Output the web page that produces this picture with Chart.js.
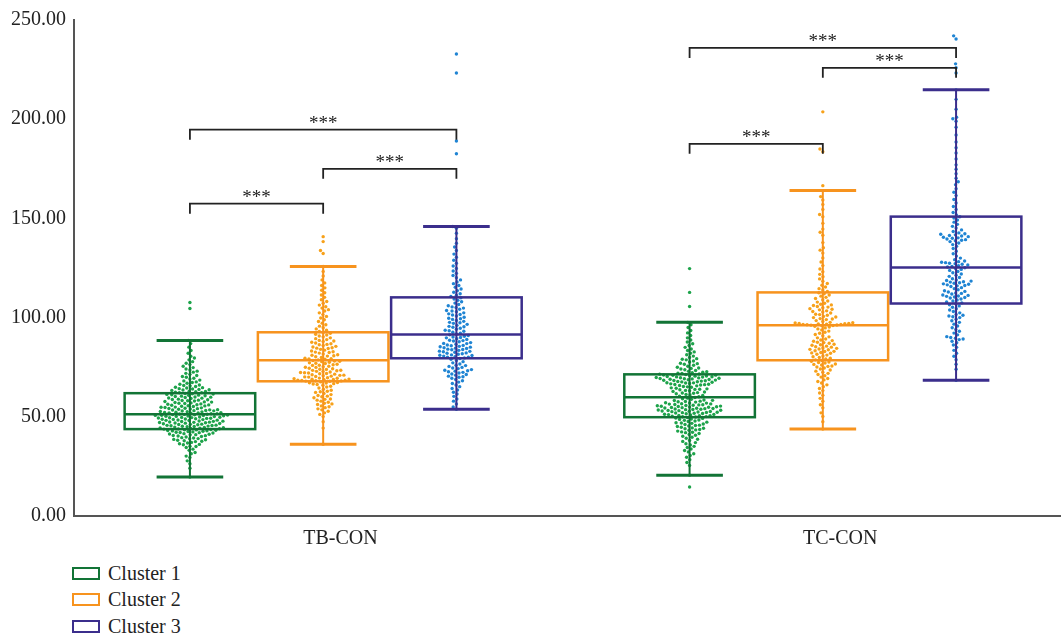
<!DOCTYPE html>
<html>
<head>
<meta charset="utf-8">
<script src="https://cdn.jsdelivr.net/npm/chart.js@4.4.1/dist/chart.umd.min.js"></script>
<style>
  body { margin: 0; background: #fff; font-family: "Liberation Serif", "Times New Roman", serif; }
  #wrap { position: absolute; left: 0; top: 0; width: 1063px; height: 555px; }
  #legend { position: absolute; left: 72px; top: 560px; }
  .item { height: 26.5px; display: flex; align-items: center; font-size: 20px; color: #222; }
  .sw { width: 24px; height: 9px; border: 2px solid; margin-right: 8px; background: #fff; }
</style>
</head>
<body>
<div id="wrap"><canvas id="chart"></canvas></div>
<div id="legend"></div>
<script>
const groups = ['TB-CON', 'TC-CON'];
const clusters = ['Cluster 1', 'Cluster 2', 'Cluster 3'];
const yTicks = [0, 50, 100, 150, 200, 250];

// box statistics, [group][cluster]
const whiskerLow  = [[19.6, 36.2, 53.8], [20.6, 43.8, 68.4]];
const q1          = [[43.8, 67.9, 79.5], [49.8, 78.5, 107.1]];
const median      = [[51.3, 78.5, 91.5], [59.9, 96.1, 125.3]];
const q3          = [[61.9, 92.6, 110.2], [71.4, 112.7, 150.9]];
const whiskerHigh = [[88.5, 125.8, 145.9], [97.6, 164.0, 214.8]];

// individual observations (swarm points), estimated
const tbCluster1 = [
  19.6, 24.1, 26.3, 27.8, 29.5, 30.2, 31.4, 32.0, 33.1, 33.7, 34.5, 35.0, 35.2, 35.9, 36.4, 36.8, 37.1, 37.5, 37.9, 38.2,
  38.6, 38.9, 39.3, 39.5, 39.8, 40.1, 40.3, 40.6, 40.9, 41.0, 41.3, 41.5, 41.8, 42.0, 42.2, 42.4, 42.7, 42.9, 43.0, 43.2,
  43.4, 43.6, 43.8, 43.9, 44.1, 44.3, 44.4, 44.6, 44.8, 45.0, 45.1, 45.3, 45.5, 45.6, 45.8, 46.0, 46.1, 46.3, 46.5, 46.6,
  46.8, 47.0, 47.1, 47.3, 47.4, 47.6, 47.8, 47.9, 48.1, 48.2, 48.4, 48.6, 48.7, 48.9, 49.0, 49.2, 49.3, 49.5, 49.6, 49.8,
  49.9, 50.1, 50.2, 50.4, 50.5, 50.6, 50.8, 50.9, 51.1, 51.2, 51.3, 51.5, 51.6, 51.8, 52.0, 52.1, 52.3, 52.5, 52.6, 52.9,
  53.0, 53.2, 53.5, 53.6, 53.9, 54.1, 54.2, 54.5, 54.7, 54.9, 55.2, 55.3, 55.6, 55.8, 56.0, 56.3, 56.5, 56.8, 57.0, 57.2,
  57.5, 57.7, 58.0, 58.2, 58.4, 58.7, 58.9, 59.2, 59.4, 59.7, 59.9, 60.2, 60.4, 60.6, 60.9, 61.1, 61.3, 61.6, 61.8, 62.1,
  62.4, 62.6, 62.9, 63.3, 63.5, 63.8, 64.2, 64.5, 64.9, 65.3, 65.6, 66.0, 66.4, 66.9, 67.3, 67.6, 68.1, 68.5, 69.0, 69.4,
  69.9, 70.3, 70.8, 71.4, 71.9, 72.5, 73.0, 73.6, 74.1, 74.8, 75.5, 76.3, 77.0, 77.8, 78.7, 79.6, 80.5, 82.0, 83.4, 85.1,
  86.9, 88.5, 104.6, 107.6,
  40.5, 41.2, 42.1, 42.6, 43.1, 43.5, 44.0, 44.5, 45.2, 45.7, 46.2, 46.9, 47.2, 47.7, 48.3, 48.8, 49.4, 49.7, 50.3, 50.7,
  51.0, 51.4, 51.9, 52.2, 52.7, 53.1, 53.4, 53.8, 54.3, 54.8, 55.5, 56.1, 56.7, 57.4, 58.1, 58.6, 59.5, 60.0, 60.8, 61.5,
  62.2, 62.8, 63.6, 64.0, 64.7, 65.8, 36.1, 37.7, 38.4, 39.0
];
const tbCluster2 = [
  36.2, 44.3, 47.5, 50.1, 51.2, 52.0, 52.8, 53.5, 54.0, 54.6, 55.1, 55.5, 56.2, 56.8, 57.3, 57.9, 58.4, 59.0, 59.6, 60.1,
  60.7, 61.2, 61.8, 62.3, 62.9, 63.4, 63.9, 64.5, 65.0, 65.4, 65.9, 66.3, 66.7, 67.0, 67.3, 67.6, 67.9, 68.1, 68.2, 68.4,
  68.5, 68.7, 68.9, 69.2, 69.4, 69.7, 70.0, 70.3, 70.5, 70.9, 71.2, 71.5, 71.8, 72.1, 72.3, 72.6, 72.9, 73.2, 73.5, 73.9,
  74.2, 74.5, 74.9, 75.2, 75.5, 75.9, 76.2, 76.5, 76.9, 77.2, 77.5, 77.8, 78.1, 78.4, 78.7, 79.0, 79.3, 79.5, 79.9, 80.3,
  80.6, 81.0, 81.3, 81.7, 82.1, 82.4, 82.8, 83.2, 83.6, 84.0, 84.4, 84.8, 85.2, 85.5, 85.9, 86.3, 86.8, 87.2, 87.6, 88.0,
  88.5, 88.9, 89.4, 89.8, 90.3, 90.7, 91.2, 91.6, 92.1, 92.5, 93.0, 93.6, 94.3, 94.9, 95.7, 96.4, 97.2, 98.0, 98.9, 99.8,
  100.6, 101.5, 102.4, 103.3, 104.0, 104.8, 105.5, 106.3, 107.2, 108.1, 109.0, 110.2, 111.4, 112.5, 113.8, 115.0, 116.2, 117.5, 119.0, 121.0,
  123.2, 125.8, 132.3, 133.8, 138.3, 140.8,
  66.5, 67.2, 68.0, 68.3, 68.8, 69.0, 69.5, 70.1, 70.7, 71.0, 71.7, 72.2, 72.8, 73.4, 74.0, 75.0, 76.0, 77.0, 78.0, 79.2,
  80.8, 82.6, 84.6, 86.5, 88.2, 56.5, 58.8, 60.4, 62.6
];
const tbCluster3 = [
  53.8, 55.0, 56.5, 57.9, 59.0, 60.3, 61.5, 62.4, 63.5, 64.3, 65.2, 66.0, 66.8, 67.5, 68.2, 68.8, 69.4, 69.9, 70.5, 71.0,
  71.6, 72.1, 72.7, 73.2, 73.8, 74.3, 74.9, 75.4, 76.0, 76.6, 77.2, 77.8, 78.4, 79.0, 79.4, 79.7, 80.0, 80.3, 80.6, 80.9,
  81.2, 81.5, 81.8, 82.2, 82.5, 82.8, 83.1, 83.5, 83.8, 84.1, 84.4, 84.8, 85.1, 85.5, 85.8, 86.2, 86.6, 87.0, 87.4, 87.8,
  88.2, 88.6, 89.0, 89.4, 89.8, 90.2, 90.6, 91.0, 91.3, 91.7, 92.1, 92.6, 93.1, 93.6, 94.1, 94.6, 95.1, 95.6, 96.1, 96.6,
  97.1, 97.6, 98.1, 98.6, 99.1, 99.7, 100.2, 100.8, 101.3, 101.9, 102.4, 103.0, 103.6, 104.2, 104.8, 105.4, 106.0, 106.6, 107.3, 108.0,
  108.7, 109.4, 110.0, 110.6, 111.3, 112.0, 112.8, 113.6, 114.4, 115.3, 116.2, 117.1, 118.0, 119.0, 120.1, 121.2, 122.3, 123.5, 124.8, 126.0,
  127.4, 128.9, 130.4, 132.0, 133.8, 135.6, 137.5, 139.8, 142.5, 145.0, 145.9, 182.6, 189.0, 223.3, 232.9,
  70.2, 71.3, 72.4, 73.0, 73.5, 74.6, 75.8, 80.1, 81.0, 82.0, 83.0, 83.9, 84.6, 85.3, 86.0, 86.9, 88.4, 90.0, 93.4, 95.4,
  97.4, 99.4, 101.6, 103.3, 105.1
];
const tcCluster1 = [
  14.6, 20.6, 25.5, 27.0, 28.4, 29.6, 30.5, 31.4, 32.3, 33.0, 33.8, 34.5, 35.1, 35.8, 36.4, 37.0, 37.6, 38.1, 38.7, 39.2,
  39.7, 40.2, 40.7, 41.1, 41.6, 42.0, 42.4, 42.8, 43.2, 43.6, 44.0, 44.4, 44.7, 45.1, 45.4, 45.8, 46.1, 46.4, 46.7, 47.0,
  47.3, 47.6, 47.9, 48.2, 48.4, 48.7, 48.9, 49.2, 49.4, 49.6, 49.9, 50.1, 50.3, 50.5, 50.7, 50.9, 51.1, 51.3, 51.5, 51.7,
  51.9, 52.1, 52.2, 52.4, 52.6, 52.8, 52.9, 53.1, 53.3, 53.4, 53.6, 53.8, 53.9, 54.1, 54.3, 54.4, 54.6, 54.8, 54.9, 55.1,
  55.3, 55.4, 55.6, 55.8, 56.0, 56.2, 56.4, 56.6, 56.9, 57.1, 57.4, 57.6, 57.9, 58.2, 58.5, 58.8, 59.1, 59.4, 59.7, 60.1,
  60.4, 60.7, 61.0, 61.3, 61.6, 61.9, 62.2, 62.5, 62.8, 63.1, 63.3, 63.6, 63.9, 64.1, 64.4, 64.6, 64.9, 65.1, 65.3, 65.6,
  65.8, 66.0, 66.2, 66.4, 66.6, 66.8, 67.0, 67.2, 67.4, 67.6, 67.8, 68.0, 68.2, 68.4, 68.5, 68.7, 68.9, 69.1, 69.3, 69.4,
  69.6, 69.8, 70.0, 70.1, 70.3, 70.5, 70.7, 70.9, 71.1, 71.3, 71.6, 71.9, 72.2, 72.5, 72.9, 73.3, 73.7, 74.1, 74.6, 75.0,
  75.5, 76.0, 76.5, 77.0, 77.6, 78.1, 78.7, 79.3, 79.9, 80.6, 81.3, 82.0, 82.7, 83.4, 84.2, 85.0, 85.9, 86.8, 87.7, 88.7,
  89.8, 91.0, 92.3, 93.5, 95.0, 96.4, 97.6, 105.6, 112.7, 124.7,
  50.0, 50.6, 51.2, 51.8, 52.3, 52.7, 53.2, 53.7, 54.2, 54.7, 55.2, 55.7, 56.1, 56.5, 57.0, 57.7, 58.3, 66.3, 67.1, 67.7,
  68.3, 68.8, 69.2, 69.7, 70.2, 70.6, 71.0, 71.5, 72.0, 72.7, 42.2, 43.4, 44.2, 45.6, 46.9, 62.0, 63.8, 74.4, 76.8, 79.0
];
const tcCluster2 = [
  43.8, 47.5, 50.2, 52.0, 54.5, 56.1, 57.8, 59.3, 60.8, 62.0, 63.2, 64.3, 65.2, 66.1, 67.0, 67.8, 68.6, 69.3, 70.0, 70.7,
  71.3, 71.9, 72.5, 73.0, 73.6, 74.1, 74.6, 75.1, 75.6, 76.1, 76.6, 77.1, 77.6, 78.0, 78.4, 78.7, 79.1, 79.5, 79.9, 80.3,
  80.7, 81.1, 81.5, 82.0, 82.4, 82.9, 83.3, 83.8, 84.2, 84.7, 85.1, 85.6, 86.1, 86.6, 87.1, 87.6, 88.1, 88.7, 89.2, 89.8,
  90.3, 90.9, 91.5, 92.1, 92.6, 93.2, 93.8, 94.3, 94.8, 95.2, 95.6, 95.9, 96.2, 96.3, 96.5, 96.6, 96.8, 97.0, 97.3, 97.6,
  98.0, 98.5, 99.0, 99.5, 100.0, 100.6, 101.2, 101.7, 102.3, 102.8, 103.4, 103.9, 104.5, 105.0, 105.6, 106.1, 106.7, 107.2, 107.8, 108.4,
  109.0, 109.6, 110.2, 110.8, 111.4, 112.0, 112.5, 113.2, 113.9, 114.6, 115.4, 116.3, 117.2, 118.3, 119.5, 120.6, 121.8, 123.1, 124.5, 126.2,
  128.0, 130.1, 132.5, 134.0, 135.2, 137.8, 141.5, 143.0, 144.6, 147.5, 150.8, 152.0, 154.5, 157.0, 159.3, 161.0, 164.0, 166.5, 183.6, 185.0,
  203.7,
  96.0, 96.4, 96.7, 96.9, 97.1, 97.4, 82.2, 83.0, 84.0, 84.5, 85.3, 86.3, 87.4, 88.4, 99.3, 100.3, 101.5, 103.1, 104.2, 105.3,
  106.4, 75.4, 76.4, 77.4
];
const tcCluster3 = [
  68.4, 74.0, 76.5, 78.8, 80.5, 82.0, 83.5, 85.0, 86.2, 87.3, 88.1, 88.9, 89.6, 90.4, 91.3, 92.2, 93.1, 94.0, 94.9, 95.8,
  96.7, 97.6, 98.4, 99.2, 100.0, 100.8, 101.6, 102.4, 103.1, 103.8, 104.5, 105.2, 105.9, 106.5, 107.0, 107.4, 107.9, 108.4, 108.9, 109.4,
  109.9, 110.4, 110.9, 111.4, 111.9, 112.4, 112.9, 113.5, 114.0, 114.6, 115.1, 115.7, 116.2, 116.8, 117.3, 117.9, 118.4, 119.0, 119.6, 120.2,
  120.8, 121.4, 122.0, 122.6, 123.2, 123.8, 124.3, 124.8, 125.1, 125.5, 125.8, 126.1, 126.5, 126.9, 127.4, 127.9, 128.5, 129.2, 130.0, 131.0,
  132.2, 133.5, 134.8, 135.9, 136.8, 137.6, 138.3, 139.0, 139.6, 140.2, 140.8, 141.4, 142.0, 142.7, 143.4, 144.2, 145.1, 146.0, 147.0, 148.1,
  149.2, 150.2, 150.8, 151.8, 153.0, 154.5, 156.0, 157.8, 159.5, 161.5, 163.2, 165.0, 167.0, 168.5, 170.2, 172.5, 174.8, 177.0, 180.0, 183.0,
  185.6, 188.5, 192.0, 196.0, 199.0, 200.2, 201.0, 205.0, 210.0, 214.8, 223.3, 225.9, 227.9, 240.4, 242.0,
  138.7, 139.3, 140.0, 140.5, 141.1, 141.7, 142.3, 116.0, 116.5, 117.0, 117.6, 118.1, 118.7, 127.2, 127.7, 128.2, 110.1, 110.7, 111.2, 112.2,
  113.2, 100.4, 101.2, 89.2, 90.0
];
const observations = [[tbCluster1, tbCluster2, tbCluster3], [tcCluster1, tcCluster2, tcCluster3]];

// significance brackets: group, from cluster, to cluster, height
const bracketGroup = [0, 0, 0, 1, 1, 1];
const bracketFrom  = [0, 1, 0, 0, 1, 0];
const bracketTo    = [1, 2, 2, 1, 2, 2];
const bracketY     = [157.4, 175.0, 194.7, 187.6, 225.9, 235.9];
const bracketText  = ['***', '***', '***', '***', '***', '***'];

// layout / style
const boxX = [[0.87, 1.87, 2.87], [4.62, 5.62, 6.62]];
const groupLabelX = [2.0, 5.75];
const boxHalf = 0.49, capHalf = 0.25, legDrop = 5;
const boxColors = ['#127436', '#f7931e', '#3b2e8c'];
const pointColors = ['#1da34a', '#f7a11a', '#1f84d3'];
const FONT = '"Liberation Serif", "Times New Roman", serif';

const datasets = [];
groups.forEach((g, gi) => {
  clusters.forEach((c, ci) => {
    datasets.push({
      label: c,
      center: boxX[gi][ci],
      values: observations[gi][ci],
      data: observations[gi][ci].map(v => ({ x: boxX[gi][ci], y: v })),
      backgroundColor: pointColors[ci],
      borderWidth: 0,
      pointRadius: 1.7,
      pointHoverRadius: 1.7
    });
  });
});

const boxPlugin = {
  id: 'boxes',
  afterDatasetsDraw(chart) {
    const ctx = chart.ctx, xs = chart.scales.x, ys = chart.scales.y;
    ctx.save();
    groups.forEach((g, gi) => {
      clusters.forEach((c, ci) => {
        const cx = xs.getPixelForValue(boxX[gi][ci]);
        const x0 = xs.getPixelForValue(boxX[gi][ci] - boxHalf);
        const x1 = xs.getPixelForValue(boxX[gi][ci] + boxHalf);
        const c0 = xs.getPixelForValue(boxX[gi][ci] - capHalf);
        const c1 = xs.getPixelForValue(boxX[gi][ci] + capHalf);
        const yLo = ys.getPixelForValue(whiskerLow[gi][ci]);
        const yHi = ys.getPixelForValue(whiskerHigh[gi][ci]);
        const yQ1 = ys.getPixelForValue(q1[gi][ci]);
        const yQ3 = ys.getPixelForValue(q3[gi][ci]);
        const yMed = ys.getPixelForValue(median[gi][ci]);
        ctx.strokeStyle = boxColors[ci];
        ctx.lineWidth = 2;
        ctx.beginPath();
        ctx.moveTo(cx, yLo); ctx.lineTo(cx, yHi);
        ctx.stroke();
        ctx.lineWidth = 3;
        ctx.beginPath();
        ctx.moveTo(c0, yLo); ctx.lineTo(c1, yLo);
        ctx.moveTo(c0, yHi); ctx.lineTo(c1, yHi);
        ctx.stroke();
        ctx.lineWidth = 2.5;
        ctx.strokeRect(x0, yQ3, x1 - x0, yQ1 - yQ3);
        ctx.beginPath();
        ctx.moveTo(x0, yMed); ctx.lineTo(x1, yMed);
        ctx.stroke();
      });
    });
    // brackets
    ctx.strokeStyle = '#222';
    ctx.fillStyle = '#222';
    ctx.lineWidth = 1.8;
    ctx.font = '19px ' + FONT;
    ctx.textAlign = 'center';
    ctx.textBaseline = 'alphabetic';
    bracketY.forEach((yv, i) => {
      const g = bracketGroup[i];
      const xa = xs.getPixelForValue(boxX[g][bracketFrom[i]]);
      const xb = xs.getPixelForValue(boxX[g][bracketTo[i]]);
      const y = ys.getPixelForValue(yv);
      const yl = ys.getPixelForValue(yv - legDrop);
      ctx.beginPath();
      ctx.moveTo(xa, yl); ctx.lineTo(xa, y); ctx.lineTo(xb, y); ctx.lineTo(xb, yl);
      ctx.stroke();
      ctx.fillText(bracketText[i], (xa + xb) / 2, y - 1);
    });
    ctx.restore();
  }
};

function swarm(chart) {
  const xs = chart.scales.x, ys = chart.scales.y;
  const D = 4.0;
  chart.data.datasets.forEach(ds => {
    const cx = xs.getPixelForValue(ds.center);
    const pts = ds.values.map(v => ({ v: v, py: ys.getPixelForValue(v) })).sort((a, b) => a.v - b.v);
    const placed = [];
    pts.forEach(p => {
      const near = placed.filter(q => Math.abs(q.py - p.py) < D);
      const cands = [0];
      near.forEach(q => {
        const w = Math.sqrt(D * D - (q.py - p.py) ** 2);
        cands.push(q.dx - w, q.dx + w);
      });
      cands.sort((a, b) => Math.abs(a) - Math.abs(b));
      p.dx = cands.find(c => near.every(q => (q.dx - c) ** 2 + (q.py - p.py) ** 2 >= D * D - 0.01));
      placed.push(p);
    });
    ds.data = placed.map(p => ({ x: xs.getValueForPixel(cx + p.dx), y: p.v }));
  });
  chart.update('none');
}

const chart = new Chart(document.getElementById('chart'), {
  type: 'scatter',
  data: { datasets: datasets },
  plugins: [boxPlugin],
  options: {
    responsive: true,
    maintainAspectRatio: false,
    animation: false,
    layout: { padding: { top: 19, right: 3, left: 0, bottom: 0 } },
    plugins: { legend: { display: false }, tooltip: { enabled: false } },
    scales: {
      x: {
        type: 'linear',
        min: 0,
        max: 7.4,
        grid: { display: false, drawTicks: false },
        border: { display: true, color: '#555', width: 2 },
        afterBuildTicks: scale => { scale.ticks = groupLabelX.map(v => ({ value: v })); },
        afterFit: scale => { scale.height = 39; },
        ticks: {
          autoSkip: false,
          maxRotation: 0,
          padding: 11,
          color: '#222',
          font: { family: FONT, size: 20 },
          callback: (v, i) => groups[i]
        }
      },
      y: {
        min: 0,
        max: 250,
        grid: { display: false, drawTicks: false },
        border: { display: true, color: '#555', width: 2 },
        afterBuildTicks: scale => { scale.ticks = yTicks.map(v => ({ value: v })); },
        afterFit: scale => { scale.width = 74; },
        ticks: {
          padding: 8,
          color: '#222',
          font: { family: FONT, size: 20 },
          callback: v => v.toFixed(2)
        }
      }
    }
  }
});
swarm(chart);

const legend = document.getElementById('legend');
clusters.forEach((c, ci) => {
  const item = document.createElement('div');
  item.className = 'item';
  const sw = document.createElement('span');
  sw.className = 'sw';
  sw.style.borderColor = boxColors[ci];
  const t = document.createElement('span');
  t.textContent = c;
  item.appendChild(sw);
  item.appendChild(t);
  legend.appendChild(item);
});
</script>
</body>
</html>
